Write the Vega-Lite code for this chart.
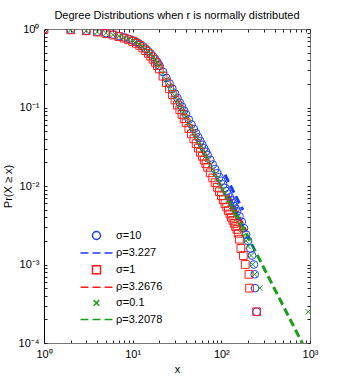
{
  "$schema": "https://vega.github.io/schema/vega-lite/v6.json",
  "width": 266,
  "height": 314,
  "autosize": "none",
  "padding": {"left": 44, "top": 29, "right": 32, "bottom": 41},
  "title": {"text": "Degree Distributions when r is normally distributed", "fontSize": 11, "fontWeight": "normal", "font": "Liberation Sans", "color": "#000", "offset": 2, "frame": "group"},
  "config": {
    "view": {"stroke": "#777", "strokeWidth": 1},
    "font": "Liberation Sans",
    "axis": {"grid": false, "domainColor": "#000", "tickColor": "#222", "labelColor": "#000", "titleColor": "#000", "labelFont": "Liberation Sans", "titleFont": "Liberation Sans", "labelFontSize": 11, "titleFontSize": 11, "titleFontWeight": "normal", "tickSize": -3, "labelPadding": 8, "labelOverlap": false, "labelFlush": false}
  },
  "datasets": {
    "markers": [
      {"x":1,"y":1,"s":"σ=10"},{"x":2,"y":0.978,"s":"σ=10"},{"x":3,"y":0.952,"s":"σ=10"},{"x":4,"y":0.921,"s":"σ=10"},{"x":5,"y":0.885,"s":"σ=10"},{"x":6,"y":0.85,"s":"σ=10"},{"x":7,"y":0.815,"s":"σ=10"},{"x":8,"y":0.783,"s":"σ=10"},{"x":9,"y":0.749,"s":"σ=10"},{"x":10,"y":0.717,"s":"σ=10"},
      {"x":11,"y":0.682,"s":"σ=10"},{"x":12,"y":0.644,"s":"σ=10"},{"x":13,"y":0.603,"s":"σ=10"},{"x":14,"y":0.561,"s":"σ=10"},{"x":15,"y":0.522,"s":"σ=10"},{"x":16,"y":0.484,"s":"σ=10"},{"x":17,"y":0.446,"s":"σ=10"},{"x":18,"y":0.411,"s":"σ=10"},{"x":19,"y":0.377,"s":"σ=10"},{"x":20,"y":0.344,"s":"σ=10"},
      {"x":22,"y":0.2837,"s":"σ=10"},{"x":24,"y":0.2379,"s":"σ=10"},{"x":26,"y":0.2024,"s":"σ=10"},{"x":28,"y":0.1737,"s":"σ=10"},{"x":30,"y":0.1502,"s":"σ=10"},{"x":32,"y":0.1315,"s":"σ=10"},{"x":34,"y":0.1156,"s":"σ=10"},{"x":36,"y":0.1023,"s":"σ=10"},{"x":38,"y":0.0911,"s":"σ=10"},{"x":40,"y":0.0818,"s":"σ=10"},
      {"x":43,"y":0.0701,"s":"σ=10"},{"x":46,"y":0.0608,"s":"σ=10"},{"x":49,"y":0.0532,"s":"σ=10"},{"x":52,"y":0.0469,"s":"σ=10"},{"x":55,"y":0.0416,"s":"σ=10"},{"x":58,"y":0.0372,"s":"σ=10"},{"x":61,"y":0.0334,"s":"σ=10"},{"x":64,"y":0.0301,"s":"σ=10"},{"x":67,"y":0.0273,"s":"σ=10"},{"x":70,"y":0.0249,"s":"σ=10"},
      {"x":75,"y":0.0215,"s":"σ=10"},{"x":80,"y":0.01873,"s":"σ=10"},{"x":85,"y":0.01647,"s":"σ=10"},{"x":90,"y":0.01457,"s":"σ=10"},{"x":95,"y":0.01298,"s":"σ=10"},{"x":100,"y":0.01164,"s":"σ=10"},{"x":105,"y":0.01047,"s":"σ=10"},{"x":110,"y":0.00947,"s":"σ=10"},{"x":115,"y":0.00861,"s":"σ=10"},{"x":120,"y":0.00784,"s":"σ=10"},
      {"x":125,"y":0.00716,"s":"σ=10"},{"x":130,"y":0.00656,"s":"σ=10"},{"x":135,"y":0.00603,"s":"σ=10"},{"x":140,"y":0.00557,"s":"σ=10"},{"x":145,"y":0.00513,"s":"σ=10"},{"x":150,"y":0.00475,"s":"σ=10"},
      {"x":160,"y":0.0041,"s":"σ=10"},{"x":170,"y":0.0035,"s":"σ=10"},{"x":180,"y":0.0029,"s":"σ=10"},{"x":190,"y":0.0024,"s":"σ=10"},{"x":200,"y":0.002,"s":"σ=10"},{"x":212,"y":0.0016,"s":"σ=10"},{"x":222,"y":0.0013,"s":"σ=10"},{"x":233,"y":0.001,"s":"σ=10"},{"x":238,"y":0.00075,"s":"σ=10"},{"x":240,"y":0.0005,"s":"σ=10"},{"x":250,"y":0.00025,"s":"σ=10"},

      {"x":1,"y":1,"s":"σ=1"},{"x":2,"y":0.976,"s":"σ=1"},{"x":3,"y":0.948,"s":"σ=1"},{"x":4,"y":0.914,"s":"σ=1"},{"x":5,"y":0.874,"s":"σ=1"},{"x":6,"y":0.837,"s":"σ=1"},{"x":7,"y":0.799,"s":"σ=1"},{"x":8,"y":0.765,"s":"σ=1"},{"x":9,"y":0.728,"s":"σ=1"},{"x":10,"y":0.693,"s":"σ=1"},
      {"x":11,"y":0.657,"s":"σ=1"},{"x":12,"y":0.617,"s":"σ=1"},{"x":13,"y":0.573,"s":"σ=1"},{"x":14,"y":0.53,"s":"σ=1"},{"x":15,"y":0.489,"s":"σ=1"},{"x":16,"y":0.45,"s":"σ=1"},{"x":17,"y":0.412,"s":"σ=1"},{"x":18,"y":0.377,"s":"σ=1"},{"x":19,"y":0.342,"s":"σ=1"},{"x":20,"y":0.31,"s":"σ=1"},
      {"x":22,"y":0.2506,"s":"σ=1"},{"x":24,"y":0.2066,"s":"σ=1"},{"x":26,"y":0.1729,"s":"σ=1"},{"x":28,"y":0.1462,"s":"σ=1"},{"x":30,"y":0.1247,"s":"σ=1"},{"x":32,"y":0.1077,"s":"σ=1"},{"x":34,"y":0.0935,"s":"σ=1"},{"x":36,"y":0.0818,"s":"σ=1"},{"x":38,"y":0.072,"s":"σ=1"},{"x":40,"y":0.0639,"s":"σ=1"},
      {"x":43,"y":0.054,"s":"σ=1"},{"x":46,"y":0.0462,"s":"σ=1"},{"x":49,"y":0.0399,"s":"σ=1"},{"x":52,"y":0.0347,"s":"σ=1"},{"x":55,"y":0.0304,"s":"σ=1"},{"x":58,"y":0.0269,"s":"σ=1"},{"x":61,"y":0.0239,"s":"σ=1"},{"x":64,"y":0.0214,"s":"σ=1"},{"x":67,"y":0.0192,"s":"σ=1"},{"x":70,"y":0.0173,"s":"σ=1"},
      {"x":75,"y":0.01473,"s":"σ=1"},{"x":80,"y":0.01267,"s":"σ=1"},{"x":85,"y":0.011,"s":"σ=1"},{"x":90,"y":0.00961,"s":"σ=1"},{"x":95,"y":0.00847,"s":"σ=1"},{"x":100,"y":0.00751,"s":"σ=1"},{"x":105,"y":0.00668,"s":"σ=1"},{"x":110,"y":0.00599,"s":"σ=1"},{"x":115,"y":0.00539,"s":"σ=1"},{"x":120,"y":0.00487,"s":"σ=1"},
      {"x":125,"y":0.0044,"s":"σ=1"},{"x":130,"y":0.004,"s":"σ=1"},{"x":135,"y":0.00365,"s":"σ=1"},{"x":140,"y":0.00334,"s":"σ=1"},{"x":145,"y":0.00305,"s":"σ=1"},{"x":150,"y":0.0028,"s":"σ=1"},
      {"x":155,"y":0.0025,"s":"σ=1"},{"x":160,"y":0.0021,"s":"σ=1"},{"x":166,"y":0.0016,"s":"σ=1"},{"x":177,"y":0.0013,"s":"σ=1"},{"x":186,"y":0.001,"s":"σ=1"},{"x":205,"y":0.00075,"s":"σ=1"},{"x":208,"y":0.0005,"s":"σ=1"},{"x":250,"y":0.00025,"s":"σ=1"},

      {"x":1,"y":1,"s":"σ=0.1"},{"x":2,"y":0.977,"s":"σ=0.1"},{"x":3,"y":0.951,"s":"σ=0.1"},{"x":4,"y":0.918,"s":"σ=0.1"},{"x":5,"y":0.881,"s":"σ=0.1"},{"x":6,"y":0.845,"s":"σ=0.1"},{"x":7,"y":0.809,"s":"σ=0.1"},{"x":8,"y":0.776,"s":"σ=0.1"},{"x":9,"y":0.741,"s":"σ=0.1"},{"x":10,"y":0.708,"s":"σ=0.1"},
      {"x":11,"y":0.673,"s":"σ=0.1"},{"x":12,"y":0.634,"s":"σ=0.1"},{"x":13,"y":0.592,"s":"σ=0.1"},{"x":14,"y":0.55,"s":"σ=0.1"},{"x":15,"y":0.509,"s":"σ=0.1"},{"x":16,"y":0.471,"s":"σ=0.1"},{"x":17,"y":0.434,"s":"σ=0.1"},{"x":18,"y":0.398,"s":"σ=0.1"},{"x":19,"y":0.364,"s":"σ=0.1"},{"x":20,"y":0.331,"s":"σ=0.1"},
      {"x":22,"y":0.271,"s":"σ=0.1"},{"x":24,"y":0.226,"s":"σ=0.1"},{"x":26,"y":0.191,"s":"σ=0.1"},{"x":28,"y":0.163,"s":"σ=0.1"},{"x":30,"y":0.14,"s":"σ=0.1"},{"x":32,"y":0.122,"s":"σ=0.1"},{"x":34,"y":0.107,"s":"σ=0.1"},{"x":36,"y":0.0942,"s":"σ=0.1"},{"x":38,"y":0.0836,"s":"σ=0.1"},{"x":40,"y":0.0746,"s":"σ=0.1"},
      {"x":43,"y":0.0637,"s":"σ=0.1"},{"x":46,"y":0.055,"s":"σ=0.1"},{"x":49,"y":0.0479,"s":"σ=0.1"},{"x":52,"y":0.042,"s":"σ=0.1"},{"x":55,"y":0.0371,"s":"σ=0.1"},{"x":58,"y":0.033,"s":"σ=0.1"},{"x":61,"y":0.0295,"s":"σ=0.1"},{"x":64,"y":0.0265,"s":"σ=0.1"},{"x":67,"y":0.024,"s":"σ=0.1"},{"x":70,"y":0.0218,"s":"σ=0.1"},
      {"x":75,"y":0.0187,"s":"σ=0.1"},{"x":80,"y":0.0162,"s":"σ=0.1"},{"x":85,"y":0.0142,"s":"σ=0.1"},{"x":90,"y":0.0125,"s":"σ=0.1"},{"x":95,"y":0.0111,"s":"σ=0.1"},{"x":100,"y":0.00991,"s":"σ=0.1"},{"x":105,"y":0.00887,"s":"σ=0.1"},{"x":110,"y":0.008,"s":"σ=0.1"},{"x":115,"y":0.00724,"s":"σ=0.1"},{"x":120,"y":0.00658,"s":"σ=0.1"},
      {"x":125,"y":0.00598,"s":"σ=0.1"},{"x":130,"y":0.00547,"s":"σ=0.1"},{"x":135,"y":0.00501,"s":"σ=0.1"},{"x":140,"y":0.00461,"s":"σ=0.1"},{"x":145,"y":0.00424,"s":"σ=0.1"},{"x":150,"y":0.00391,"s":"σ=0.1"},
      {"x":160,"y":0.0033,"s":"σ=0.1"},{"x":170,"y":0.00279,"s":"σ=0.1"},{"x":180,"y":0.00235,"s":"σ=0.1"},{"x":190,"y":0.002,"s":"σ=0.1"},{"x":200,"y":0.0017,"s":"σ=0.1"},{"x":216,"y":0.0013,"s":"σ=0.1"},{"x":226,"y":0.001,"s":"σ=0.1"},{"x":238,"y":0.00075,"s":"σ=0.1"},{"x":272,"y":0.0005,"s":"σ=0.1"},{"x":955,"y":0.00025,"s":"σ=0.1"}
    ],
    "fits": [
      {"x":110,"y":0.0139,"s":"ρ=3.227"},{"x":175,"y":0.00494,"s":"ρ=3.227"},
      {"x":120,"y":0.0076,"s":"ρ=3.2676"},{"x":190,"y":0.00268,"s":"ρ=3.2676"},
      {"x":125,"y":0.00635,"s":"ρ=3.2078"},{"x":1000,"y":0.0000638,"s":"ρ=3.2078"}
    ]
  },
  "layer": [
    {
      "data": {"name": "fits"},
      "mark": {"type": "line", "strokeWidth": 3, "strokeDash": [8, 4], "clip": true},
      "encoding": {
        "x": {"field": "x", "type": "quantitative", "scale": {"type": "log", "domain": [1, 1000], "nice": false},
              "axis": {"orient": "bottom", "title": "x", "titlePadding": 4, "domainColor": "#777", "values": [1,2,3,4,5,6,7,8,9,10,20,30,40,50,60,70,80,90,100,200,300,400,500,600,700,800,900,1000],
                       "labelExpr": "datum.value == 1 ? '10⁰' : datum.value == 10 ? '10¹' : datum.value == 100 ? '10²' : datum.value == 1000 ? '10³' : ''",
                       "encode": {"ticks": {"update": {"y2": {"signal": "abs(log(datum.value)/LN10 - round(log(datum.value)/LN10)) < 0.001 ? -5 : -3"}}}}}},
        "y": {"field": "y", "type": "quantitative", "scale": {"type": "log", "domain": [0.0001, 1], "nice": false},
              "axis": {"orient": "left", "title": "Pr(X ≥ x)", "titlePadding": 5, "values": [0.0001,0.0002,0.0003,0.0004,0.0005,0.0006,0.0007,0.0008,0.0009,0.001,0.002,0.003,0.004,0.005,0.006,0.007,0.008,0.009,0.01,0.02,0.03,0.04,0.05,0.06,0.07,0.08,0.09,0.1,0.2,0.3,0.4,0.5,0.6,0.7,0.8,0.9,1],
                       "labelExpr": "datum.value == 1 ? '10⁰' : datum.value == 0.1 ? '10⁻¹' : datum.value == 0.01 ? '10⁻²' : datum.value == 0.001 ? '10⁻³' : datum.value == 0.0001 ? '10⁻⁴' : ''",
                       "encode": {"ticks": {"update": {"x2": {"signal": "abs(log(datum.value)/LN10 - round(log(datum.value)/LN10)) < 0.001 ? 5 : 3"}}}}}},
        "color": {"field": "s", "type": "nominal",
                  "scale": {"domain": ["σ=10", "ρ=3.227", "σ=1", "ρ=3.2676", "σ=0.1", "ρ=3.2078"], "range": ["#1a3cff", "#1a3cff", "#ff1a1a", "#ff1a1a", "#1a9e1a", "#1a9e1a"]}}
      }
    },
    {
      "data": {"name": "markers"},
      "mark": {"type": "point", "filled": false, "strokeWidth": 1, "size": 60, "opacity": 1, "clip": true},
      "encoding": {
        "x": {"field": "x", "type": "quantitative", "axis": {"orient": "top", "labels": false, "title": null, "domain": false, "values": [1,2,3,4,5,6,7,8,9,10,20,30,40,50,60,70,80,90,100,200,300,400,500,600,700,800,900,1000],
                       "encode": {"ticks": {"update": {"y2": {"signal": "abs(log(datum.value)/LN10 - round(log(datum.value)/LN10)) < 0.001 ? 5 : 3"}}}}}},
        "y": {"field": "y", "type": "quantitative", "axis": {"orient": "right", "labels": false, "title": null, "domain": false, "values": [0.0001,0.0002,0.0003,0.0004,0.0005,0.0006,0.0007,0.0008,0.0009,0.001,0.002,0.003,0.004,0.005,0.006,0.007,0.008,0.009,0.01,0.02,0.03,0.04,0.05,0.06,0.07,0.08,0.09,0.1,0.2,0.3,0.4,0.5,0.6,0.7,0.8,0.9,1],
                       "encode": {"ticks": {"update": {"x2": {"signal": "abs(log(datum.value)/LN10 - round(log(datum.value)/LN10)) < 0.001 ? -5 : -3"}}}}}},
        "color": {"field": "s", "type": "nominal",
                  "scale": {"domain": ["σ=10", "ρ=3.227", "σ=1", "ρ=3.2676", "σ=0.1", "ρ=3.2078"], "range": ["#1a3cff", "#1a3cff", "#ff1a1a", "#ff1a1a", "#1a9e1a", "#1a9e1a"]},
                  "legend": {"title": null, "orient": "none", "legendX": 47, "legendY": 201, "padding": 0, "symbolSize": 64, "symbolOpacity": 1, "labelFontSize": 11, "labelFont": "Liberation Sans", "labelColor": "#000", "labelOffset": 14, "rowPadding": 3.6,
                             "encode": {"symbols": {"update": {"fill": {"value": "transparent"}, "strokeWidth": {"signal": "indexof(datum.value, 'ρ') == 0 ? 2.5 : 1"}}}}}},
        "shape": {"field": "s", "type": "nominal",
                  "scale": {"domain": ["σ=10", "ρ=3.227", "σ=1", "ρ=3.2676", "σ=0.1", "ρ=3.2078"], "range": ["circle", "M-4,0H-2M-1,0H1M2,0H4", "square", "M-4,0H-2M-1,0H1M2,0H4", "M-0.7,-0.7L0.7,0.7M-0.7,0.7L0.7,-0.7", "M-4,0H-2M-1,0H1M2,0H4"]},
                  "legend": {"title": null, "orient": "none", "legendX": 47, "legendY": 201, "padding": 0, "symbolSize": 64, "symbolOpacity": 1, "labelFontSize": 11, "labelFont": "Liberation Sans", "labelColor": "#000", "labelOffset": 14, "rowPadding": 3.6,
                             "encode": {"symbols": {"update": {"fill": {"value": "transparent"}, "strokeWidth": {"signal": "indexof(datum.value, 'ρ') == 0 ? 2.5 : 1"}}}}}}
      }
    }
  ],
  "resolve": {"axis": {"x": "independent", "y": "independent"}}
}
